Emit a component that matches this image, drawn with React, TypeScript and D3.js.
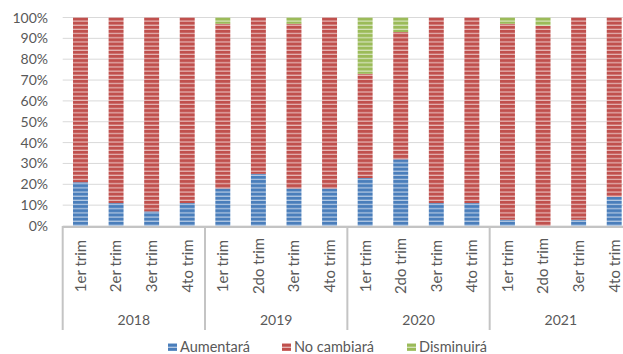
import React from "react";
import * as d3 from "d3";

// Expectation shares per quarter (fractions of 1)
const years = ["2018", "2019", "2020", "2021"];
const quarters = ["1er trim", "2er trim", "3er trim", "4to trim", "1er trim", "2do trim", "3er trim", "4to trim", "1er trim", "2do trim", "3er trim", "4to trim", "1er trim", "2do trim", "3er trim", "4to trim"];
const aumentara = [0.21, 0.11, 0.07, 0.11, 0.18, 0.25, 0.18, 0.18, 0.23, 0.32, 0.11, 0.11, 0.03, 0.0, 0.03, 0.14];
const disminuira = [0.0, 0.0, 0.0, 0.0, 0.03, 0.0, 0.03, 0.0, 0.27, 0.07, 0.0, 0.0, 0.03, 0.04, 0.0, 0.0];
const noCambiara = aumentara.map((a, i) => 1 - a - disminuira[i]);
const seriesNames = ["Aumentará", "No cambiará", "Disminuirá"];
const seriesColors = ["#4a7ebb", "#c0504d", "#9bbb59"];
const yTicks = [0, 0.1, 0.2, 0.3, 0.4, 0.5, 0.6, 0.7, 0.8, 0.9, 1.0];

const W = 623;
const H = 354;
const plotLeft = 62.7;
const plotRight = 632;
const plotTop = 17.5;
const plotBottom = 226;
const font = "Lato, 'Open Sans', sans-serif";
const textColor = "#595959";

export default function App() {
  const idx = quarters.map((_, i) => i);
  const x = d3.scaleBand<number>().domain(idx).range([plotLeft, plotRight]).paddingInner(0.58).paddingOuter(0.29);
  const y = d3.scaleLinear().domain([0, 1]).range([plotBottom, plotTop]);
  const step = x.step();
  const groupW = step * 4;

  const rows = idx.map((i) => ({ a: aumentara[i], n: noCambiara[i], d: disminuira[i] }));
  const stack = d3.stack<{ a: number; n: number; d: number }>().keys(["a", "n", "d"])(rows);

  const stripe = (plotBottom - plotTop) / 50;

  return (
    <svg width={W} height={H} style={{ position: "absolute", left: 0, top: 0, background: "#fff" }} fontFamily={font}>
      <defs>
        {seriesColors.map((c, k) => (
          <pattern key={k} id={`pat${k}`} patternUnits="userSpaceOnUse" width={10} height={stripe} y={plotBottom}>
            <rect width={10} height={stripe} fill={c} />
            <rect width={10} height={1.2} y={stripe - 1.2} fill="#ffffff" opacity={0.6} />
          </pattern>
        ))}
      </defs>

      {/* horizontal gridlines */}
      {yTicks.map((t) => (
        <line key={t} x1={plotLeft} x2={plotRight} y1={y(t)} y2={y(t)} stroke="#d9d9d9" strokeWidth={1} />
      ))}

      {/* y axis labels */}
      {yTicks.map((t) => (
        <text key={t} x={48} y={y(t)} dy="0.36em" textAnchor="end" fontSize={14} fill={textColor}>
          {d3.format(".0%")(t)}
        </text>
      ))}

      {/* stacked bars */}
      {stack.map((layer, k) => (
        <g key={k} fill={`url(#pat${k})`}>
          {layer.map((seg, i) =>
            seg[1] - seg[0] > 0 ? (
              <rect key={i} x={x(i)} width={x.bandwidth()} y={y(seg[1])} height={y(seg[0]) - y(seg[1])} />
            ) : null
          )}
        </g>
      ))}

      {/* category axis */}
      <line x1={plotLeft} x2={plotRight} y1={plotBottom + 1} y2={plotBottom + 1} stroke="#c4c4c4" strokeWidth={2} />
      {d3.range(years.length + 1).map((g) => (
        <line key={g} x1={plotLeft + g * groupW} x2={plotLeft + g * groupW} y1={plotBottom} y2={330} stroke="#c4c4c4" strokeWidth={2} />
      ))}

      {/* quarter labels */}
      {idx.map((i) => {
        const cx = (x(i) as number) + x.bandwidth() / 2;
        return (
          <text key={i} transform={`translate(${cx},266) rotate(-90)`} textAnchor="middle" dy="0.36em" fontSize={15} fill={textColor}>
            {quarters[i]}
          </text>
        );
      })}

      {/* year labels */}
      {years.map((yr, g) => (
        <text key={yr} x={plotLeft + g * groupW + groupW / 2} y={320} dy="0.36em" textAnchor="middle" fontSize={14} fill={textColor}>
          {yr}
        </text>
      ))}

      {/* legend */}
      {seriesNames.map((name, k) => {
        const lx = [168, 282, 407][k];
        return (
          <g key={name} transform={`translate(${lx},343)`}>
            <rect width={9} height={8} fill={`url(#pat${k})`} />
            <text x={12} y={4} dy="0.36em" fontSize={14.5} fill={textColor}>
              {name}
            </text>
          </g>
        );
      })}
    </svg>
  );
}
